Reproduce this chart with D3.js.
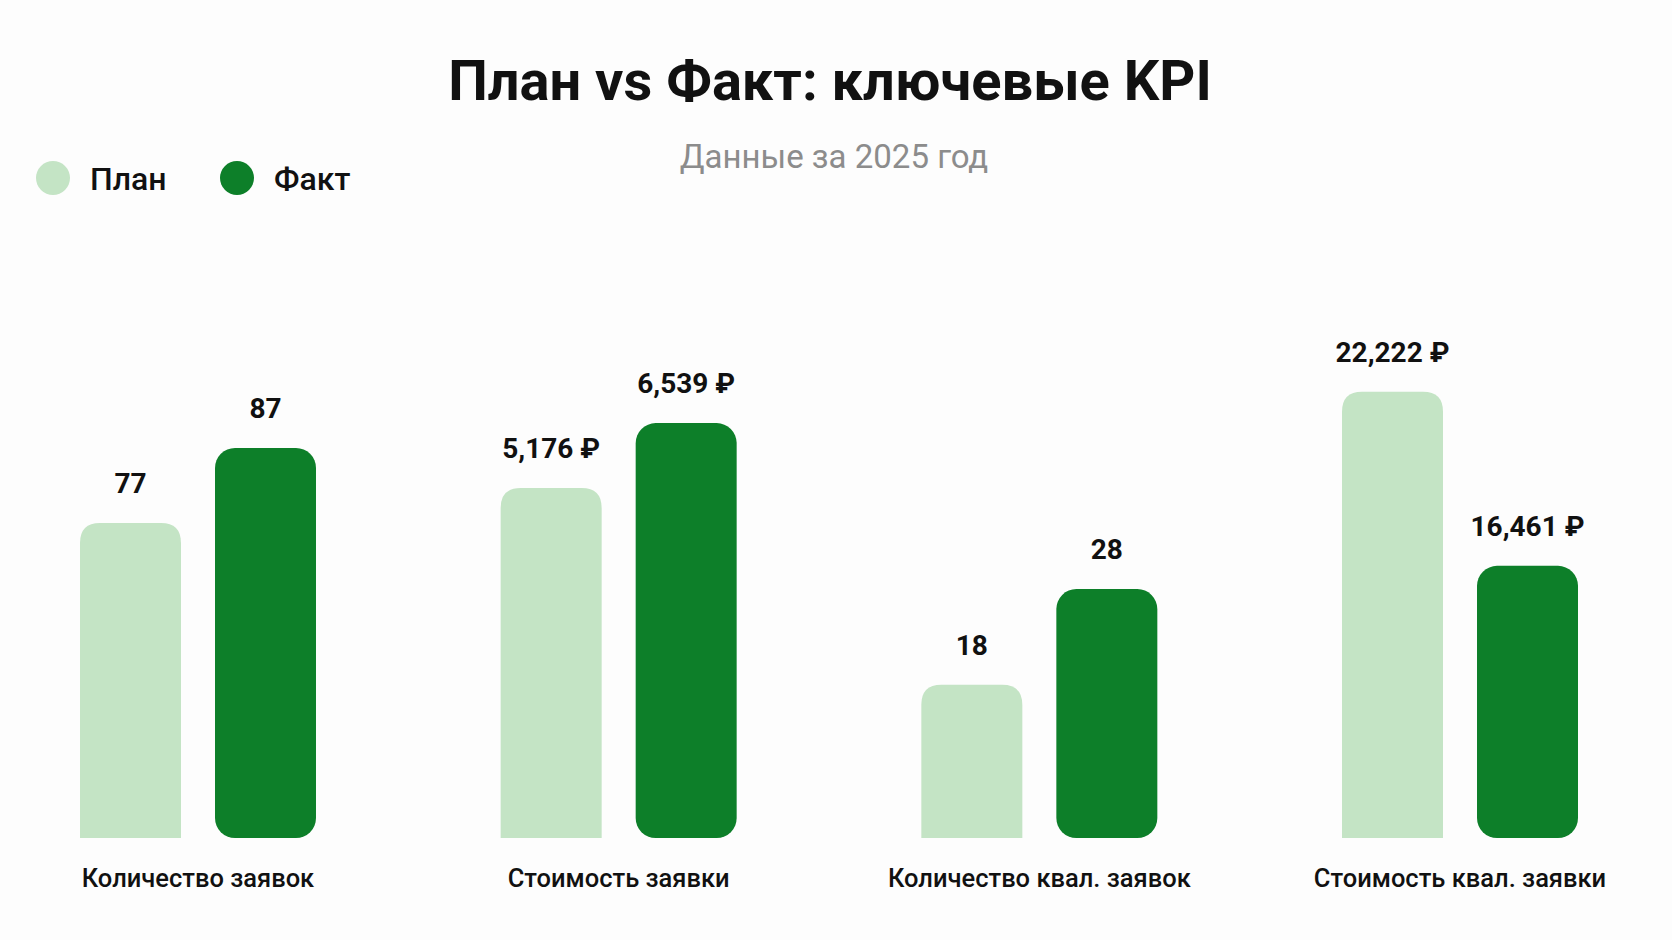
<!DOCTYPE html>
<html>
<head>
<meta charset="utf-8">
<script src="https://cdn.jsdelivr.net/npm/d3@7"></script>
<style>
  body { margin: 0; background: #fdfdfd; }
  svg { display: block; font-family: Roboto, "Noto Sans", sans-serif; }
</style>
</head>
<body>
<svg id="chart" width="1672" height="940"></svg>
<script>
// data
var categories = ['Количество заявок', 'Стоимость заявки', 'Количество квал. заявок', 'Стоимость квал. заявки'];
var series = ['План', 'Факт'];
var planValues = [77, 5176, 18, 22222];
var factValues = [87, 6539, 28, 16461];
var isMoney = [false, true, false, true];
// each KPI has its own value axis (units differ)
var yDomains = [[35, 95], [-2160, 7275], [2, 49], [7450, 22350]];

var W = 1672, H = 940;
var colors = { 'План': '#c4e4c5', 'Факт': '#0d7f29' };
var svg = d3.select('#chart');

svg.append('rect').attr('width', W).attr('height', H).attr('fill', '#fdfdfd');

var baseY = 838, topY = 388;

var x0 = d3.scaleBand().domain(categories).range([80, 1578]).paddingInner(0.439).paddingOuter(0);
var x1 = d3.scaleBand().domain(series).range([0, x0.bandwidth()]).paddingInner(0.252);

var fmt = d3.format(',');

// title
svg.append('text')
  .attr('x', 830).attr('y', 100)
  .attr('text-anchor', 'middle')
  .style('font-size', '56px').style('font-weight', 700).style('fill', '#111')
  .text('План vs Факт: ключевые KPI');

svg.append('text')
  .attr('x', 834).attr('y', 168)
  .attr('text-anchor', 'middle')
  .style('font-size', '33px').style('font-weight', 400).style('fill', '#8c8c8c')
  .text('Данные за 2025 год');

// legend
var legX = [53, 237];
var legend = svg.selectAll('.leg').data(series).enter().append('g').attr('class', 'leg');
legend.append('circle')
  .attr('cx', function(d, i) { return legX[i]; })
  .attr('cy', 178).attr('r', 17)
  .attr('fill', function(d) { return colors[d]; });
legend.append('text')
  .attr('x', function(d, i) { return legX[i] + 37; })
  .attr('y', 190)
  .style('font-size', '32px').style('font-weight', 500).style('fill', '#111')
  .text(function(d) { return d; });

// top-rounded bar path
function topRounded(x, y, w, h, r) {
  r = Math.min(r, h, w / 2);
  return ['M', x, y + h, 'L', x, y + r, 'Q', x, y, x + r, y,
          'L', x + w - r, y, 'Q', x + w, y, x + w, y + r,
          'L', x + w, y + h, 'Z'].join(' ');
}

var groups = svg.selectAll('.grp')
  .data(categories)
  .enter().append('g')
  .attr('class', 'grp')
  .attr('transform', function(d) { return 'translate(' + x0(d) + ',0)'; });

groups.each(function(cat, i) {
  var g = d3.select(this);
  var y = d3.scaleLinear().domain(yDomains[i]).range([baseY, topY]);
  var vals = [
    { s: 'План', v: planValues[i] },
    { s: 'Факт', v: factValues[i] }
  ];

  // plan: rounded top only
  g.append('path')
    .attr('d', topRounded(x1('План'), y(vals[0].v), x1.bandwidth(), baseY - y(vals[0].v), 20))
    .attr('fill', colors['План']);

  // fact: fully rounded
  g.append('rect')
    .attr('x', x1('Факт'))
    .attr('y', y(vals[1].v))
    .attr('width', x1.bandwidth())
    .attr('height', baseY - y(vals[1].v))
    .attr('rx', 20).attr('ry', 20)
    .attr('fill', colors['Факт']);

  g.selectAll('.val').data(vals).enter().append('text')
    .attr('class', 'val')
    .attr('x', function(d) { return x1(d.s) + x1.bandwidth() / 2; })
    .attr('y', function(d) { return y(d.v) - 30; })
    .attr('text-anchor', 'middle')
    .style('font-size', '28px').style('font-weight', 700).style('fill', '#111')
    .text(function(d) { return fmt(d.v) + (isMoney[i] ? ' ₽' : ''); });

  g.append('text')
    .attr('x', x0.bandwidth() / 2)
    .attr('y', 887)
    .attr('text-anchor', 'middle')
    .style('font-size', '25.5px').style('font-weight', 500).style('fill', '#111')
    .text(cat);
});
</script>
</body>
</html>
